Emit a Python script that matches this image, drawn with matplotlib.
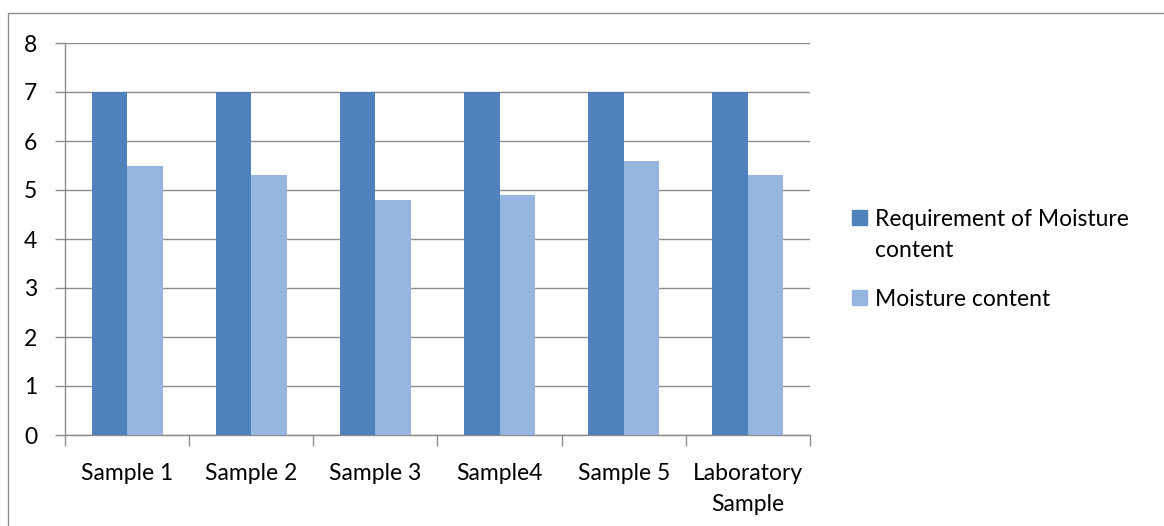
import matplotlib
matplotlib.use("Agg")
import matplotlib.pyplot as plt
import numpy as np
from matplotlib.patches import Rectangle

categories = ["Sample 1", "Sample 2", "Sample 3", "Sample4", "Sample 5", "Laboratory\nSample"]
requirement = [7, 7, 7, 7, 7, 7]
moisture = [5.5, 5.3, 4.8, 4.9, 5.6, 5.3]
series_names = ["Requirement of Moisture\ncontent", "Moisture content"]
colors = ["#4F81BD", "#95B7DF"]

plt.rcParams['font.family'] = ['Lato', 'DejaVu Sans']
FS = 16.5

W, H = 1164, 526
fig = plt.figure(figsize=(W / 100, H / 100), dpi=100)

# outer chart frame
fig.add_artist(Rectangle((8 / W, -0.1), 1.2, (H - 13) / H + 0.1, transform=fig.transFigure,
                         fill=False, edgecolor="#8C8C8C", linewidth=1.0))

ax = fig.add_axes([65 / W, (H - 435) / H, (810 - 65) / W, (435 - 43) / H])

x = np.arange(len(categories))
bw = 1 / 3.5
series = [requirement, moisture]
for i, (vals, name, c) in enumerate(zip(series, series_names, colors)):
    ax.bar(x + (i - 0.5) * bw, vals, bw, color=c, label=name, zorder=3)

ax.set_xlim(-0.5, len(categories) - 0.5)
ax.set_ylim(0, 8)
ax.set_yticks(range(0, 9))
ax.yaxis.grid(True, color="#8C8C8C", linewidth=1.0, zorder=0)
ax.set_axisbelow(True)

for s in ["top", "right"]:
    ax.spines[s].set_visible(False)
for s in ["left", "bottom"]:
    ax.spines[s].set_color("#8C8C8C")
    ax.spines[s].set_linewidth(1.0)

ax.set_xticks(np.arange(-0.5, len(categories), 1.0))
ax.set_xticklabels([])
ax.set_xticks(x, minor=True)
ax.set_xticklabels(categories, minor=True, fontsize=FS, linespacing=1.6)
ax.tick_params(axis="x", which="major", length=8, color="#8C8C8C", width=1.0)
ax.tick_params(axis="x", which="minor", length=0, pad=20)
ax.tick_params(axis="y", length=7, color="#8C8C8C", width=1.0, labelsize=FS, pad=13)

# legend: marker aligned with the first line of each entry
legend_rows = [218, 298]
for y_px, name, c in zip(legend_rows, series_names, colors):
    fig.add_artist(Rectangle((852 / W, 1 - (y_px + 7) / H), 15 / W, 15 / H,
                             transform=fig.transFigure, color=c))
    fig.text(875 / W, 1 - (y_px - 9) / H, name, fontsize=FS, va="top", ha="left",
             linespacing=1.6)

fig.savefig("out.png", dpi=100)
